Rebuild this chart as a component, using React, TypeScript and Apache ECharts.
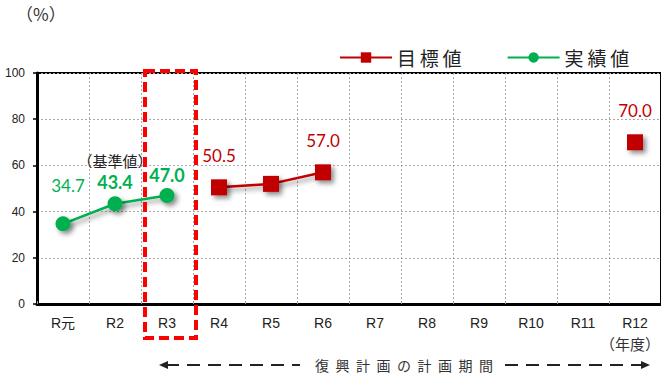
import React, { useEffect, useRef } from "react";
import * as echarts from "echarts";

const categories = ["R元", "R2", "R3", "R4", "R5", "R6", "R7", "R8", "R9", "R10", "R11", "R12"];
const targetValues: (number | null)[] = [null, null, null, 50.5, 52.0, 57.0, null, null, null, null, null, 70.0];
const actualValues: (number | null)[] = [34.7, 43.4, 47.0, null, null, null, null, null, null, null, null, null];
const targetLabelShown = [false, false, false, true, false, true, false, false, false, false, false, true];
const yTicks = [0, 20, 40, 60, 80, 100];
const seriesNames = ["目標値", "実績値"];
const baseLabel = "（基準値）";
const periodText = "復興計画の計画期間";

const RED = "#c00000";
const GREEN = "#00b050";
const JP = "'Noto Sans CJK JP', sans-serif";
const NUM = "Lato, 'Liberation Sans', sans-serif";

export default function App() {
  const ref = useRef<HTMLDivElement>(null);
  useEffect(() => {
    if (!ref.current) return;
    const chart = echarts.init(ref.current, undefined, { renderer: "svg" });
    const shadow = { shadowBlur: 5, shadowOffsetX: 3, shadowOffsetY: 3, shadowColor: "rgba(0,0,0,0.45)" };

    const targetData = targetValues.map((v, i) => ({
      value: v,
      label: { show: v != null && targetLabelShown[i] },
    }));
    const actualData = actualValues.map((v, i) => {
      if (v == null) return { value: v };
      if (i === 0) return { value: v, label: { show: true, offset: [5, -18], fontWeight: "normal" } };
      if (i === 1)
        return {
          value: v,
          label: {
            show: true,
            formatter: (p: any) => `{b|${baseLabel}}\n{a|${p.value.toFixed(1)}}`,
            rich: {
              b: { fontFamily: JP, fontSize: 15, color: "#222", fontWeight: "normal", lineHeight: 24 },
              a: { fontFamily: NUM, fontSize: 18, color: GREEN, fontWeight: "bold", lineHeight: 20 },
            },
          },
        };
      return { value: v, label: { show: true, fontWeight: "bold", fontSize: 18 } };
    });

    const gfx: any[] = [];
    const yb = 365;
    gfx.push({ type: "polygon", shape: { points: [[159, yb], [168, yb - 4], [168, yb + 4]] }, style: { fill: "#222" } });
    gfx.push({ type: "line", shape: { x1: 166, y1: yb, x2: 300, y2: yb }, style: { stroke: "#222", lineWidth: 2, lineDash: [13, 8] } });
    periodText.split("").forEach((c, i) => {
      gfx.push({
        type: "text",
        x: 322 + i * 20.5,
        y: yb,
        style: { text: c, fontFamily: JP, fontSize: 14, fill: "#333", align: "center", verticalAlign: "middle" },
      });
    });
    gfx.push({ type: "line", shape: { x1: 505, y1: yb, x2: 642, y2: yb }, style: { stroke: "#222", lineWidth: 2, lineDash: [13, 8] } });
    gfx.push({ type: "polygon", shape: { points: [[650, yb], [641, yb - 4], [641, yb + 4]] }, style: { fill: "#222" } });
    gfx.push({
      type: "rect",
      shape: { x: 145, y: 71, width: 51, height: 267 },
      style: { fill: "none", stroke: "#ff0000", lineWidth: 4, lineDash: [10, 5] },
      z: 100,
    });
    gfx.push({ type: "text", x: 16, y: 5, style: { text: "（%）", fontFamily: JP, fontSize: 17, fill: "#333" } });
    gfx.push({ type: "text", x: 600, y: 336, style: { text: "（年度）", fontFamily: JP, fontSize: 15, fill: "#333" } });

    chart.setOption({
      animation: false,
      backgroundColor: "#fff",
      textStyle: { fontFamily: JP },
      grid: { left: 37, top: 73, width: 630, height: 231, show: true, borderColor: "#000", borderWidth: 2, containLabel: false },
      legend: {
        data: seriesNames,
        left: 334,
        top: 43,
        itemWidth: 52,
        itemHeight: 13,
        itemGap: 45,
        formatter: (name: string) => name.split("").join("\u2009"),
        textStyle: { fontFamily: JP, fontSize: 19, color: "#222" },
      },
      xAxis: {
        type: "category",
        data: categories,
        boundaryGap: true,
        axisLine: { lineStyle: { color: "#000", width: 3 } },
        axisTick: { show: true, inside: true, length: 3, lineStyle: { color: "#999" } },
        axisLabel: { fontFamily: "'Liberation Sans', 'Noto Sans CJK JP', sans-serif", fontSize: 14, color: "#222", margin: 12 },
        splitLine: { show: true, lineStyle: { color: "#aaa", type: [2, 2], width: 1 } },
      },
      yAxis: {
        type: "value",
        min: yTicks[0],
        max: yTicks[yTicks.length - 1],
        interval: yTicks[1] - yTicks[0],
        axisLine: { show: true, lineStyle: { color: "#000", width: 3 } },
        axisTick: { show: true, length: 4, lineStyle: { color: "#000", width: 1.5 } },
        axisLabel: { fontFamily: "'Liberation Sans', sans-serif", fontSize: 12, color: "#222", margin: 12 },
        splitLine: { show: true, lineStyle: { color: "#aaa", type: [2, 2], width: 1 } },
      },
      series: [
        {
          name: seriesNames[0],
          type: "line",
          data: targetData,
          connectNulls: false,
          symbol: "rect",
          symbolSize: 16,
          color: RED,
          lineStyle: { color: RED, width: 2.5, ...shadow },
          itemStyle: { color: RED, ...shadow },
          label: {
            show: false,
            position: "top",
            distance: 15,
            color: RED,
            fontFamily: NUM,
            fontSize: 17,
            formatter: (p: any) => p.value.toFixed(1),
          },
          z: 3,
        },
        {
          name: seriesNames[1],
          type: "line",
          data: actualData,
          connectNulls: false,
          symbol: "circle",
          symbolSize: 15,
          color: GREEN,
          lineStyle: { color: GREEN, width: 2.5, ...shadow },
          itemStyle: { color: GREEN, ...shadow },
          label: {
            show: false,
            position: "top",
            distance: 4,
            color: GREEN,
            fontFamily: NUM,
            fontSize: 17,
            formatter: (p: any) => p.value.toFixed(1),
          },
          z: 3,
        },
      ],
      graphic: gfx,
    });
    return () => chart.dispose();
  }, []);
  return <div ref={ref} style={{ width: 661, height: 375, position: "absolute", left: 0, top: 0 }} />;
}
